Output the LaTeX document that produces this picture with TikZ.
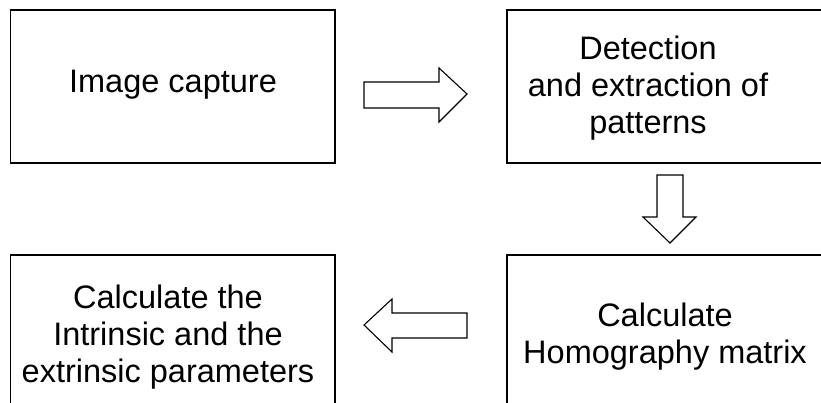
\documentclass[tikz,border=0pt]{standalone}
\usepackage{fontspec}
\setmainfont{Liberation Sans}
\begin{document}
\begin{tikzpicture}[x=1pt,y=1pt,
  box/.style={draw=black,line width=1.6pt},
  lbl/.style={align=center,font=\fontsize{32.5}{37}\selectfont,inner sep=0pt},
  blockarrow/.style={draw=black,line width=1.1pt,fill=white,line join=miter}]
\useasboundingbox (0,0) rectangle (821,402);
\clip (0,0) rectangle (821,402);
% boxes
\draw[box] (10.5,392) rectangle (335,239);
\draw[box] (507,392) rectangle (840,239);
\draw[box] (10.5,-20) -- (10.5,147) -- (335,147) -- (335,-20);
\draw[box] (507,-20) -- (507,147) -- (840,147);
% labels
\node[lbl] (capture) at (173,317) {Image capture};
\node[lbl] (detect) at (648,314) {Detection\\and extraction of\\patterns};
\node[lbl] (homog) at (665,65) {Calculate\\Homography matrix};
\node[lbl] (calc) at (168,65) {Calculate the\\Intrinsic and the\\extrinsic parameters};
% block arrows
\draw[blockarrow] (364,320) -- (439,320) -- (439,334) -- (467,308) -- (439,280) -- (439,294) -- (364,294) -- cycle;
\draw[blockarrow] (657,227) -- (683,227) -- (683,185) -- (696,185) -- (670,159) -- (643,185) -- (657,185) -- cycle;
\draw[blockarrow] (467,89) -- (392,89) -- (392,103) -- (364,77) -- (392,50) -- (392,64) -- (467,64) -- cycle;
\end{tikzpicture}
\end{document}
